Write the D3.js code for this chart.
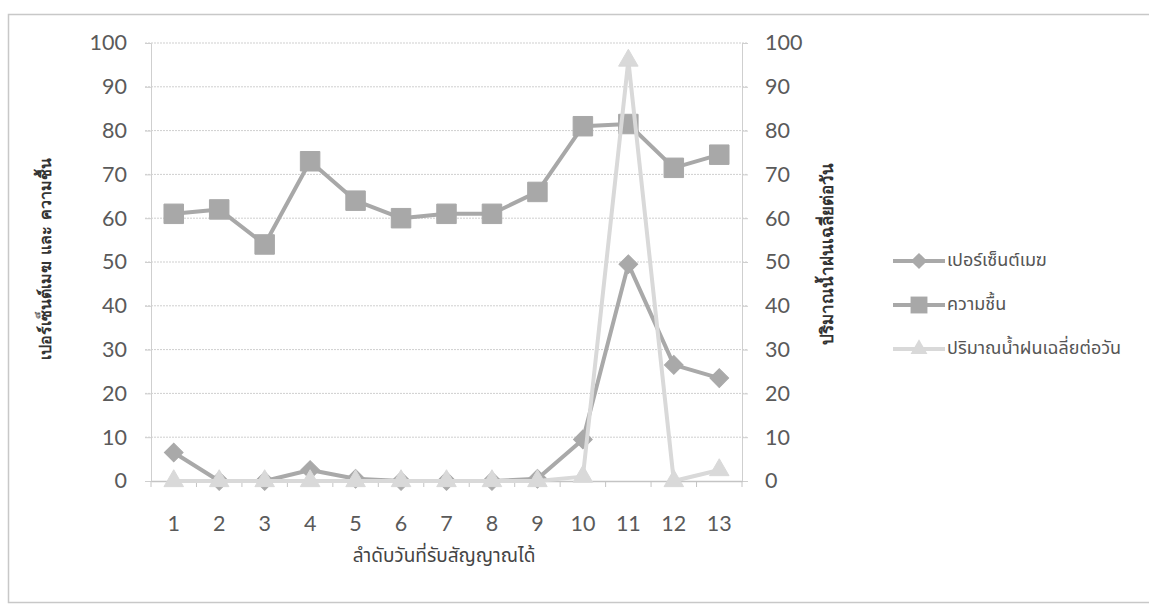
<!DOCTYPE html>
<html><head><meta charset="utf-8">
<script src="https://cdn.jsdelivr.net/npm/d3@7"></script>
<style>
html,body{margin:0;padding:0;background:#fff;}
svg{display:block;}
</style></head><body>
<svg id="c" width="1149" height="604"></svg>
<script>
const categories = ["1","2","3","4","5","6","7","8","9","10","11","12","13"];
const cloudPct = [6.5,0,0,2.5,0.5,0,0,0,0.5,9.5,49.5,26.5,23.5];
const humidity = [61,62,54,73,64,60,61,61,66,81,81.5,71.5,74.5];
const rainfall = [0,0,0,0,0,0,0,0,0,1,96,0,2.5];
const yTicks = [0,10,20,30,40,50,60,70,80,90,100];
const seriesNames = ["เปอร์เซ็นต์เมฆ","ความชื้น","ปริมาณน้ำฝนเฉลี่ยต่อวัน"];
const leftTitle = "เปอร์เซ็นต์เมฆ และ ความชื้น";
const rightTitle = "ปริมาณน้ำฝนเฉลี่ยต่อวัน";
const xTitle = "ลำดับวันที่รับสัญญาณได้";

const svg = d3.select("#c");
const numFont = "Lato, 'Open Sans', sans-serif";
const thaiFont = "'Noto Sans Thai','Noto Sans','DejaVu Sans',sans-serif";
const L = 151, R = 742, T = 43, B = 481;

// frame
svg.append("rect").attr("x",8.5).attr("y",14.5).attr("width",1170).attr("height",588)
  .attr("fill","none").attr("stroke","#c8c8c8").attr("stroke-width",1.5);

const x = d3.scaleBand().domain(categories).range([L,R]);
const yL = d3.scaleLinear().domain([0,100]).range([B,T]);
const yR = d3.scaleLinear().domain([0,100]).range([B,T]);

// gridlines
svg.append("g").selectAll("line").data(yTicks.filter(d=>d>0)).join("line")
  .attr("x1",L-6).attr("x2",R+6).attr("y1",d=>yL(d)).attr("y2",d=>yL(d))
  .attr("stroke","#cfcfcf").attr("stroke-width",1).attr("stroke-dasharray","2,1");

// left axis
const gl = svg.append("g").attr("transform",`translate(${L},0)`)
  .call(d3.axisLeft(yL).tickValues(yTicks).tickSize(6).tickPadding(18));
gl.select(".domain").attr("stroke","#cfcfcf");
gl.selectAll(".tick line").attr("stroke","#cfcfcf");
gl.selectAll("text").attr("font-family",numFont).attr("font-size",21.5).attr("fill","#5a5a5a");

// right axis
const gr = svg.append("g").attr("transform",`translate(${R},0)`)
  .call(d3.axisRight(yR).tickValues(yTicks).tickSize(6).tickPadding(17));
gr.select(".domain").attr("stroke","#cfcfcf");
gr.selectAll(".tick line").attr("stroke","#cfcfcf");
gr.selectAll("text").attr("font-family",numFont).attr("font-size",21.5).attr("fill","#5a5a5a");

// bottom axis
const gb = svg.append("g").attr("transform",`translate(0,${B})`)
  .call(d3.axisBottom(x).tickSize(0).tickPadding(35));
gb.select(".domain").attr("stroke","#c4c4c4").attr("stroke-width",1.5);
gb.selectAll("text").attr("font-family",numFont).attr("font-size",21.5).attr("fill","#5a5a5a");
// band boundary ticks
const bounds = categories.map(c=>x(c)).concat([R]);
svg.append("g").selectAll("line").data(bounds).join("line")
  .attr("x1",d=>d).attr("x2",d=>d).attr("y1",B).attr("y2",B+6)
  .attr("stroke","#c4c4c4");

// titles
svg.append("text").attr("transform",`translate(46,259) rotate(-90)`)
  .attr("text-anchor","middle").attr("dominant-baseline","middle")
  .attr("font-family","'DejaVu Serif',serif").attr("font-weight","bold").attr("font-size",16).attr("fill","#333")
  .text(leftTitle);
svg.append("text").attr("transform",`translate(828,254) rotate(-90)`)
  .attr("text-anchor","middle").attr("dominant-baseline","middle")
  .attr("font-family","'DejaVu Serif',serif").attr("font-weight","bold").attr("font-size",17).attr("fill","#333")
  .text(rightTitle);
svg.append("text").attr("x",444).attr("y",557).attr("text-anchor","middle").attr("dominant-baseline","middle")
  .attr("font-family",thaiFont).attr("font-size",19).attr("fill","#444").text(xTitle);

const cx = i => x(categories[i]) + x.bandwidth()/2;
const series = [
  {name:seriesNames[0], values:cloudPct, y:yL, color:"#a9a9a9", sym:d3.symbolSquare, size:175, rot:45},
  {name:seriesNames[1], values:humidity, y:yL, color:"#a8a8a8", sym:d3.symbolSquare, size:380, rot:0},
  {name:seriesNames[2], values:rainfall, y:yR, color:"#d9d9d9", sym:d3.symbolTriangle, size:165, rot:0}
];

series.forEach(s=>{
  const line = d3.line().x((d,i)=>cx(i)).y(d=>s.y(d));
  svg.append("path").datum(s.values).attr("d",line)
    .attr("fill","none").attr("stroke",s.color).attr("stroke-width",4).attr("stroke-linejoin","round");
  svg.append("g").selectAll("path").data(s.values).join("path")
    .attr("d",d3.symbol().type(s.sym).size(s.size))
    .attr("transform",(d,i)=>`translate(${cx(i)},${s.y(d)}) rotate(${s.rot})`)
    .attr("fill",s.color).attr("stroke",s.color).attr("stroke-width",1);
});

// legend
const legY = [261,305,349];
series.forEach((s,i)=>{
  const g = svg.append("g").attr("transform",`translate(0,${legY[i]})`);
  g.append("line").attr("x1",893).attr("x2",945).attr("y1",0).attr("y2",0)
    .attr("stroke",s.color).attr("stroke-width",4);
  g.append("path").attr("d",d3.symbol().type(s.sym).size(s.size*0.75)())
    .attr("transform",`translate(919,0) rotate(${s.rot})`).attr("fill",s.color);
  g.append("text").attr("x",947).attr("y",0).attr("dominant-baseline","middle")
    .attr("font-family",thaiFont).attr("font-size",18).attr("fill","#555").text(s.name);
});
</script>
</body></html>
